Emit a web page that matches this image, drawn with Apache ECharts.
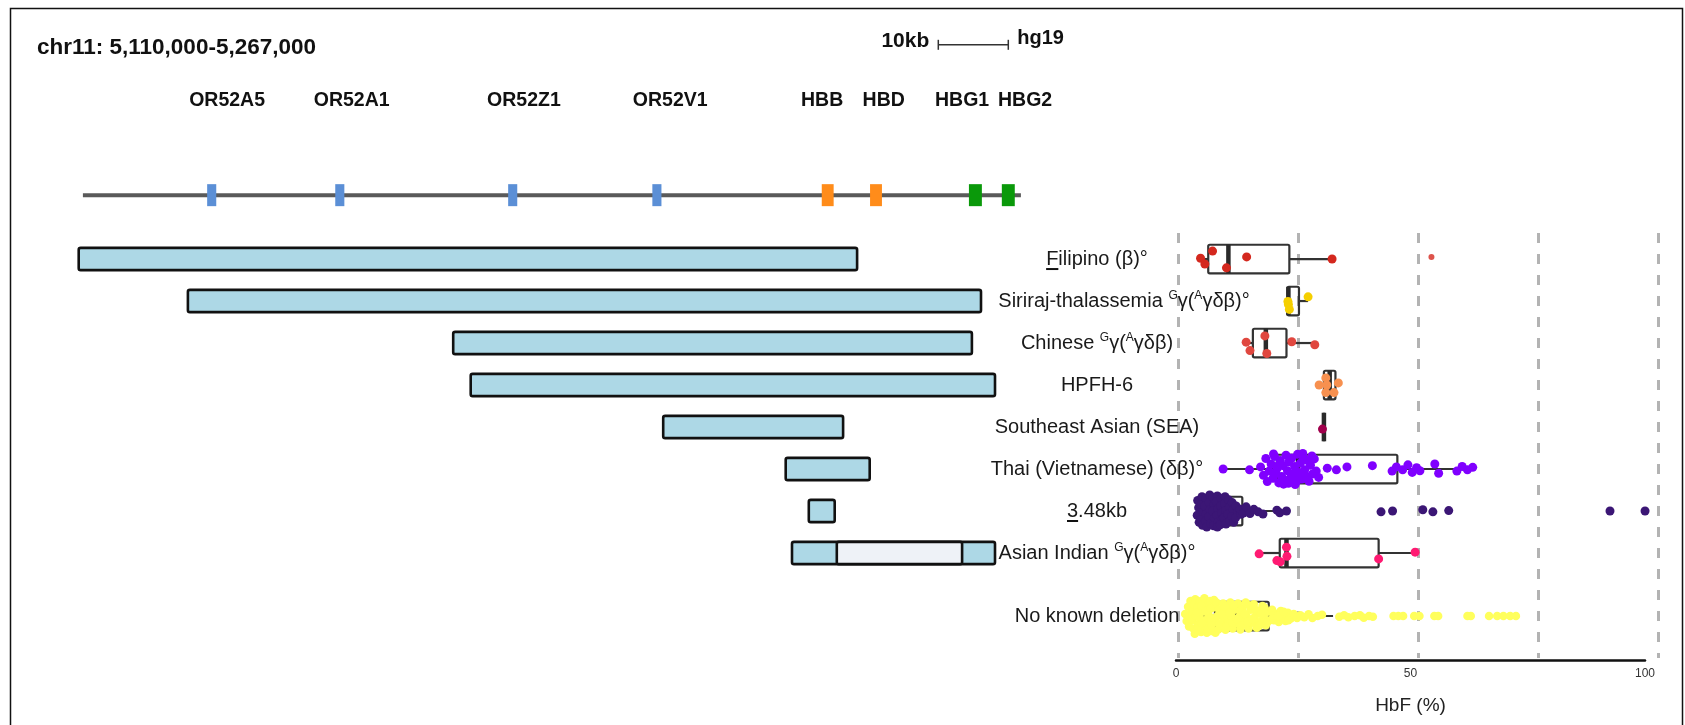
<!DOCTYPE html>
<html><head><meta charset="utf-8">
<script src="https://cdn.jsdelivr.net/npm/echarts@6/dist/echarts.min.js"></script>
<style>html,body{margin:0;padding:0;background:#fff}#c{width:1685px;height:725px}</style>
</head><body><div id="c"></div>
<script>
// ---------------- DATA ----------------
const regionTitle = 'chr11: 5,110,000-5,267,000';
const assemblyName = 'hg19';
const scaleBarLabel = '10kb';
const scaleBarKb = [5262.9, 5272.9];
const locusKb = [5140.7, 5274.7];

const geneNames = ['OR52A5', 'OR52A1', 'OR52Z1', 'OR52V1', 'HBB', 'HBD', 'HBG1', 'HBG2'];
const geneFamily = ['OR', 'OR', 'OR', 'OR', 'adult', 'adult', 'fetal', 'fetal'];
const geneCenterKb = [5159.1, 5177.4, 5202.1, 5222.7, 5247.1, 5254.0, 5268.2, 5272.9];
const geneLengthKb = [1.3, 1.3, 1.3, 1.3, 1.7, 1.7, 1.85, 1.85];
const geneLabelKb = [5161.3, 5179.1, 5203.7, 5224.6, 5246.3, 5255.1, 5266.3, 5275.3];

const categories = ['Filipino (β)°', 'Siriraj-thalassemia ᴳγ(ᴬγδβ)°', 'Chinese ᴳγ(ᴬγδβ)', 'HPFH-6',
  'Southeast Asian (SEA)', 'Thai (Vietnamese) (δβ)°', '3.48kb', 'Asian Indian ᴳγ(ᴬγδβ)°', 'No known deletion'];
const rowPosition = [0, 1, 2, 3, 4, 5, 6, 7, 8.5];

const deletionStartKb = [5140.1, 5155.7, 5193.6, 5196.1, 5223.6, 5241.1, 5244.4, 5242.0];
const deletionEndKb   = [5251.3, 5269.0, 5267.7, 5271.0, 5249.3, 5253.1, 5248.1, 5271.0];
const retainedSegment = [[7, 5248.4, 5266.3]]; // [deletion index, start kb, end kb]

const hbfTicks = [0, 50, 100];
const boxMin    = [4.7, 22.8, 14.2, 29.4, 30.4, 9.4, 3.9, 16.9, 1.5];
const boxQ1     = [6.3, 22.8, 15.6, 30.4, 30.4, 20.6, 5.5, 21.2, 7.7];
const boxMedian = [10.5, 23.0, 18.3, 31.6, 30.4, 25.0, 8.2, 22.6, 12.0];
const boxQ3     = [23.2, 25.2, 22.6, 32.8, 30.4, 45.7, 13.4, 41.8, 18.9];
const boxMax    = [32.1, 27.1, 28.5, 33.4, 30.4, 61.4, 22.6, 49.4, 32.3];

// points: [HbF %, vertical jitter in rows]
const filipinoPts = [[4.7,-0.02],[7.2,-0.19],[5.6,0.12],[10.1,0.21],[14.3,-0.05],[32.1,0.0]];
const filipinoOutliers = [[52.8,-0.05]];
const sirirajPts = [[22.9,0.01],[23.2,0.2],[27.1,-0.1],[23.0,0.08]];
const chinesePts = [[14.2,-0.02],[15.0,0.18],[18.1,-0.17],[18.5,0.25],[23.7,-0.03],[28.5,0.04]];
const hpfhPts = [[29.4,0.0],[30.8,-0.17],[33.4,-0.05],[30.8,0.18],[32.5,0.18],[31.0,0.0]];
const seaPts = [[30.1,0.05]];
const thaiPts = [[9.4,0.0],[14.9,0.02],
  [17.2,-0.05],[17.8,0.15],[18.3,-0.25],[18.6,0.30],[19.0,0.05],[19.4,-0.12],[19.8,0.22],[20.1,-0.30],
  [20.4,0.10],[20.7,-0.02],[21.0,0.33],[21.3,-0.20],[21.6,0.18],[21.9,-0.08],[22.2,0.27],[22.5,-0.33],
  [22.8,0.04],[23.1,-0.17],[23.4,0.21],[23.7,-0.26],[24.0,0.12],[24.3,-0.06],[24.6,0.31],[24.9,-0.35],
  [25.2,0.08],[25.5,-0.14],[25.8,0.24],[26.1,-0.28],[26.4,0.02],[26.7,0.17],[27.0,-0.20],[27.3,0.29],
  [27.6,-0.09],[28.0,0.12],[28.4,-0.24],[28.8,0.05],[29.3,0.20],[22.0,0.36],[24.4,0.37],[19.9,-0.36],
  [26.0,-0.37],[23.0,0.34],[21.0,-0.10],[25.0,0.19],[27.9,-0.31],
  [31.1,-0.02],[33.0,0.02],[35.2,-0.05],[40.5,-0.08],[44.6,0.05],[45.5,-0.05],[46.8,0.02],[47.9,-0.1],
  [48.8,0.08],[49.7,-0.03],[50.4,0.04],[53.5,-0.12],[54.3,0.1],[58.1,0.05],[59.2,-0.06],[60.3,0.02],[61.4,-0.04]];
const kb348Pts = [
  [4.1,-0.25],[4.3,-0.08],[4.0,0.1],[4.4,0.27],
  [5.0,-0.34],[4.9,-0.15],[5.2,0.02],[4.8,0.2],[5.1,0.34],
  [5.8,-0.3],[5.6,-0.12],[5.9,0.07],[5.7,0.24],[6.0,0.38],
  [6.6,-0.38],[6.5,-0.2],[6.7,-0.03],[6.4,0.14],[6.8,0.3],
  [7.3,-0.33],[7.5,-0.16],[7.2,0.0],[7.6,0.17],[7.4,0.35],
  [8.2,-0.36],[8.0,-0.22],[8.3,-0.05],[8.1,0.11],[8.4,0.26],[8.2,0.38],
  [9.0,-0.3],[8.9,-0.12],[9.1,0.04],[9.2,0.21],[8.8,0.33],
  [9.8,-0.34],[9.7,-0.18],[9.9,-0.01],[9.6,0.16],[10.0,0.31],
  [10.5,-0.27],[10.7,-0.09],[10.4,0.08],[10.8,0.23],
  [11.3,-0.2],[11.5,-0.03],[11.2,0.13],[11.6,0.27],
  [12.1,-0.12],[12.4,0.03],[12.0,0.16],[12.9,-0.04],[13.1,0.08],
  [13.6,0.05],[14.2,-0.1],[15.0,0.06],[15.8,-0.04],[16.7,0.02],[17.7,0.07],[20.6,-0.02],[21.2,0.04],[22.6,0.0],
  [42.3,0.02],[44.7,0.0],[51.0,-0.03],[53.1,0.02],[56.4,-0.01],[90.0,0.0],[97.3,0.0]];
const asianIndianPts = [[16.9,0.02],[20.6,0.18],[21.3,0.21],[22.6,-0.14],[22.7,0.08],[41.8,0.14],[49.4,-0.02]];
const noDeletionPts = [
  [1.5,-0.05],[1.8,0.12],[2.1,-0.22],[2.3,0.25],[2.5,0.0],[2.6,-0.36],
  [2.9,-0.1],[3.0,0.1],[3.3,-0.28],[3.2,0.3],[3.6,-0.4],[3.7,0.0],[3.5,0.42],[4.1,-0.2],[4.2,0.2],[4.6,-0.35],
  [4.5,0.05],[4.8,0.38],[5.1,-0.1],[5.3,0.26],[5.5,-0.42],[5.6,0.1],[5.9,-0.25],[6.0,0.4],[6.3,-0.05],[6.5,0.22],
  [6.7,-0.36],[6.9,0.05],[7.1,0.36],[7.3,-0.2],[7.6,0.15],
  [3.9,-0.08],[4.0,0.32],[4.9,-0.24],[5.0,0.18],[5.8,-0.12],[6.2,0.3],[6.8,-0.18],[7.0,0.22],[7.5,-0.38],[7.8,0.4],
  [8.0,-0.32],[8.2,0.0],[8.4,0.32],[8.8,-0.15],[9.0,0.18],[9.4,-0.3],[9.6,0.05],[9.9,0.33],[10.3,-0.18],[10.5,0.15],
  [10.9,-0.32],[11.1,0.0],[11.4,0.3],[11.8,-0.15],[12.1,0.18],[12.5,-0.3],[12.7,0.03],[13.0,0.32],[13.4,-0.18],[13.7,0.14],
  [14.1,-0.32],[14.3,0.0],[14.7,0.3],[15.1,-0.15],[15.4,0.16],[15.8,-0.28],[16.0,0.02],[16.4,0.28],[16.8,-0.12],[17.1,0.14],
  [17.6,-0.24],[17.9,0.05],[18.3,0.22],[18.7,-0.1],[19.1,0.1],
  [8.5,-0.16],[8.7,0.18],[9.2,-0.05],[9.8,-0.22],[10.1,0.25],[10.7,-0.08],[11.3,0.16],[11.6,-0.26],[12.3,0.08],[12.9,-0.12],
  [13.3,0.22],[13.9,-0.05],[14.5,0.14],[14.9,-0.25],[15.6,0.07],[16.2,-0.14],[16.9,0.24],[17.3,-0.05],[18.0,-0.2],[18.6,0.15],
  [19.6,-0.15],[20.0,0.1],[20.5,-0.05],[21.0,0.14],[21.4,-0.12],[21.9,0.03],[22.4,0.12],[22.9,-0.08],[23.5,0.06],[24.1,-0.05],
  [24.8,0.05],[25.5,-0.02],[19.9,-0.02],[20.8,0.0],[22.0,-0.1],[23.0,0.1],
  [26.3,0.03],[27.2,-0.04],[28.0,0.05],[29.1,0.0],[30.0,-0.03],[33.6,0.02],[34.6,-0.02],[35.5,0.03],[36.8,0.0],[37.9,-0.02],
  [38.7,0.04],[39.8,0.0],[40.6,0.02],
  [44.9,0.0],[45.9,0.0],[46.9,0.0],[49.2,0.0],[50.3,0.0],[53.4,0.0],[54.2,0.0],[60.3,0.0],[61.0,0.0],[64.8,0.0],
  [66.5,0.0],[67.8,0.0],[69.2,0.0],[70.4,0.0]];

const groupPoints = [filipinoPts, sirirajPts, chinesePts, hpfhPts, seaPts, thaiPts, kb348Pts, asianIndianPts, noDeletionPts];
const groupOutliers = [filipinoOutliers, [], [], [], [], [], [], [], []];

// ---------------- STYLE / LAYOUT ----------------
const FONT = '"Liberation Sans", Arial, Helvetica, sans-serif';
const groupColors = ['#d4281e', '#f5cf00', '#e0473f', '#f7904f', '#a0004c', '#8000ff', '#3b1675', '#ff1a72', '#ffff5c'];
const familyColors = { OR: '#5b8fd6', adult: '#ff8c1a', fetal: '#0a990a' };
const GENE_ROW = -1.52, GENE_LABEL_ROW = -3.76, SCALE_ROW = -5.1;
const LABEL_OFFSET = 81;      // px left of HbF = 0
const LABEL_NUDGE = { 1: 27 }; // horizontal nudge of individual labels, px
const LABEL_SIZE = 20, SUP_SIZE = 12;
const underlineFirst = { 0: true, 6: true };

const mctx = document.createElement('canvas').getContext('2d');
function measure(t, size) { mctx.font = size + 'px ' + FONT; return mctx.measureText(t).width; }
function runs(name) {
  const out = [];
  for (const ch of name) {
    const sup = ch === 'ᴳ' ? 'G' : ch === 'ᴬ' ? 'A' : null;
    if (sup) out.push([sup, true]);
    else if (out.length && !out[out.length - 1][1]) out[out.length - 1][0] += ch;
    else out.push([ch, false]);
  }
  return out;
}

const chart = echarts.init(document.getElementById('c'), null, { renderer: 'canvas' });

const series = [];
// deletion bars
const barData = deletionStartKb.map((s, i) => [rowPosition[i], s, deletionEndKb[i], 0]);
retainedSegment.forEach(r => barData.push([rowPosition[r[0]], r[1], r[2], 1]));
series.push({
  type: 'custom', xAxisIndex: 0, yAxisIndex: 0, data: barData, encode: { x: [1, 2], y: 0 }, z: 2,
  renderItem(params, api) {
    const row = api.value(0), kind = api.value(3);
    const p0 = api.coord([api.value(1), row]), p1 = api.coord([api.value(2), row]);
    const h = api.size([0, 1])[1] * 0.53;
    return { type: 'rect', shape: { x: p0[0], y: p0[1] - h / 2, width: p1[0] - p0[0], height: h, r: 2 },
      style: { fill: kind ? '#eef2f7' : '#add8e6', stroke: '#111', lineWidth: 2.6 } };
  }
});
// gene line
series.push({
  type: 'custom', xAxisIndex: 0, yAxisIndex: 0, data: [[locusKb[0], locusKb[1]]], z: 2,
  renderItem(params, api) {
    const a = api.coord([api.value(0), GENE_ROW]), b = api.coord([api.value(1), GENE_ROW]);
    return { type: 'line', shape: { x1: a[0], y1: a[1], x2: b[0], y2: b[1] }, style: { stroke: '#5a5a5a', lineWidth: 4 } };
  }
});
// gene boxes
series.push({
  type: 'custom', xAxisIndex: 0, yAxisIndex: 0, data: geneCenterKb.map((c, i) => [c, geneLengthKb[i], i]), z: 3,
  renderItem(params, api) {
    const i = api.value(2);
    const p = api.coord([api.value(0), GENE_ROW]);
    const w = api.size([api.value(1), 0])[0];
    return { type: 'rect', shape: { x: p[0] - w / 2, y: p[1] - 11, width: w, height: 22 },
      style: { fill: familyColors[geneFamily[i]] } };
  }
});
// gene labels
series.push({
  type: 'custom', xAxisIndex: 0, yAxisIndex: 0, data: geneLabelKb.map((c, i) => [c, i]), z: 3,
  renderItem(params, api) {
    const p = api.coord([api.value(0), GENE_LABEL_ROW]);
    return { type: 'text', style: { text: geneNames[api.value(1)], x: p[0], y: p[1], align: 'center', verticalAlign: 'middle',
      font: 'bold 19.5px ' + FONT, fill: '#111' } };
  }
});
// scale bar
series.push({
  type: 'custom', xAxisIndex: 0, yAxisIndex: 0, data: [[scaleBarKb[0], scaleBarKb[1]]], z: 3,
  renderItem(params, api) {
    const a = api.coord([api.value(0), SCALE_ROW]), b = api.coord([api.value(1), SCALE_ROW]);
    const st = { stroke: '#333', lineWidth: 1.5 };
    return { type: 'group', children: [
      { type: 'line', shape: { x1: a[0], y1: a[1], x2: b[0], y2: b[1] }, style: st },
      { type: 'line', shape: { x1: a[0], y1: a[1] - 5, x2: a[0], y2: a[1] + 5 }, style: st },
      { type: 'line', shape: { x1: b[0], y1: b[1] - 5, x2: b[0], y2: b[1] + 5 }, style: st },
      { type: 'text', style: { text: scaleBarLabel, x: a[0] - 9, y: a[1] - 4, align: 'right', verticalAlign: 'middle', font: 'bold 21px ' + FONT, fill: '#111' } },
      { type: 'text', style: { text: assemblyName, x: b[0] + 9, y: a[1] - 6, align: 'left', verticalAlign: 'middle', font: 'bold 20px ' + FONT, fill: '#111' } }
    ] };
  }
});
// boxplots
series.push({
  type: 'custom', xAxisIndex: 1, yAxisIndex: 1, z: 3,
  data: boxMin.map((m, i) => [rowPosition[i], m, boxQ1[i], boxMedian[i], boxQ3[i], boxMax[i]]),
  encode: { x: [1, 2, 3, 4, 5], y: 0 },
  renderItem(params, api) {
    const row = api.value(0);
    const c = [1, 2, 3, 4, 5].map(k => api.coord([api.value(k), row]));
    const y = c[0][1];
    const h = api.size([0, 1])[1] * 0.68;
    const st = { stroke: '#333', lineWidth: 2.2, fill: null };
    return { type: 'group', children: [
      { type: 'line', shape: { x1: c[0][0], y1: y, x2: c[1][0], y2: y }, style: st },
      { type: 'line', shape: { x1: c[3][0], y1: y, x2: c[4][0], y2: y }, style: st },
      { type: 'rect', shape: { x: c[1][0], y: y - h / 2, width: c[3][0] - c[1][0], height: h, r: 1.5 }, style: { stroke: '#333', lineWidth: 2.2, fill: 'rgba(255,255,255,0)' } },
      { type: 'line', shape: { x1: c[2][0], y1: y - h / 2, x2: c[2][0], y2: y + h / 2 }, style: { stroke: '#2a2a2a', lineWidth: 4.5 } }
    ] };
  }
});
// points
groupPoints.forEach((pts, i) => {
  series.push({
    type: 'scatter', xAxisIndex: 1, yAxisIndex: 1, z: 4, symbolSize: i === 8 ? 8.5 : 9,
    itemStyle: { color: groupColors[i], opacity: 1 },
    data: pts.map(p => [p[0], rowPosition[i] + p[1]])
  });
  if (groupOutliers[i].length) series.push({
    type: 'scatter', xAxisIndex: 1, yAxisIndex: 1, z: 4, symbolSize: 6,
    itemStyle: { color: groupColors[i] },
    data: groupOutliers[i].map(p => [p[0], rowPosition[i] + p[1]])
  });
});
// group labels
series.push({
  type: 'custom', xAxisIndex: 1, yAxisIndex: 1, z: 5, data: rowPosition.map((r, i) => [0, r, i]),
  renderItem(params, api) {
    const i = api.value(2);
    const p = api.coord([0, api.value(1)]);
    const cx = p[0] - LABEL_OFFSET + (LABEL_NUDGE[i] || 0), cy = p[1];
    const rs = runs(categories[i]);
    const text = rs.map(r => (r[1] ? '{s|' : '{n|') + r[0] + '}').join('');
    const children = [{ type: 'text', style: { text, x: cx, y: cy, align: 'center', verticalAlign: 'middle',
      rich: { n: { fontSize: LABEL_SIZE, fontFamily: FONT, fill: '#1a1a1a', lineHeight: 23 },
              s: { fontSize: SUP_SIZE, fontFamily: FONT, fill: '#1a1a1a', verticalAlign: 'top' } } } }];
    if (underlineFirst[i]) {
      const total = rs.reduce((a, r) => a + measure(r[0], r[1] ? SUP_SIZE : LABEL_SIZE), 0);
      const left = cx - total / 2;
      const w1 = measure(categories[i][0], LABEL_SIZE);
      children.push({ type: 'line', shape: { x1: left, y1: cy + 10, x2: left + w1, y2: cy + 10 }, style: { stroke: '#111', lineWidth: 2 } });
    }
    return { type: 'group', children };
  }
});

chart.setOption({
  animation: false,
  backgroundColor: '#fff',
  grid: [
    { left: 78, width: 980, top: 7, height: 651 },
    { left: 1178, width: 480, top: 233, height: 425 },
    { left: 1176, width: 469, top: 233, height: 427 }
  ],
  xAxis: [
    { gridIndex: 0, type: 'value', min: 5140, max: 5280, show: false },
    { gridIndex: 1, type: 'value', min: 0, max: 100, interval: 25,
      axisLine: { show: false }, axisTick: { show: false }, axisLabel: { show: false },
      splitLine: { show: true, lineStyle: { type: [10, 11], color: '#b3b3b3', width: 3 } } },
    { gridIndex: 2, type: 'value', min: 0, max: 100, interval: 50,
      axisLine: { show: true, onZero: false, lineStyle: { color: '#111', width: 2.5 } },
      axisTick: { show: false }, splitLine: { show: false },
      axisLabel: { customValues: hbfTicks, fontSize: 12, color: '#333', margin: 8, fontFamily: FONT },
      name: 'HbF (%)', nameLocation: 'middle', nameGap: 36,
      nameTextStyle: { fontSize: 19, color: '#222', fontFamily: FONT } }
  ],
  yAxis: [
    { gridIndex: 0, type: 'value', min: -6, max: 9.5, inverse: true, show: false },
    { gridIndex: 1, type: 'value', min: -0.62, max: 9.5, inverse: true, show: false },
    { gridIndex: 2, type: 'value', min: 0, max: 1, show: false }
  ],
  graphic: [
    { type: 'rect', left: 8, top: 6, shape: { width: 1672, height: 760 }, style: { fill: 'none', stroke: '#111', lineWidth: 1.5 }, silent: true, z: 0 },
    { type: 'text', left: 37, top: 36, style: { text: regionTitle, font: 'bold 22.5px ' + FONT, fill: '#111' } }
  ],
  series
});
</script></body></html>
